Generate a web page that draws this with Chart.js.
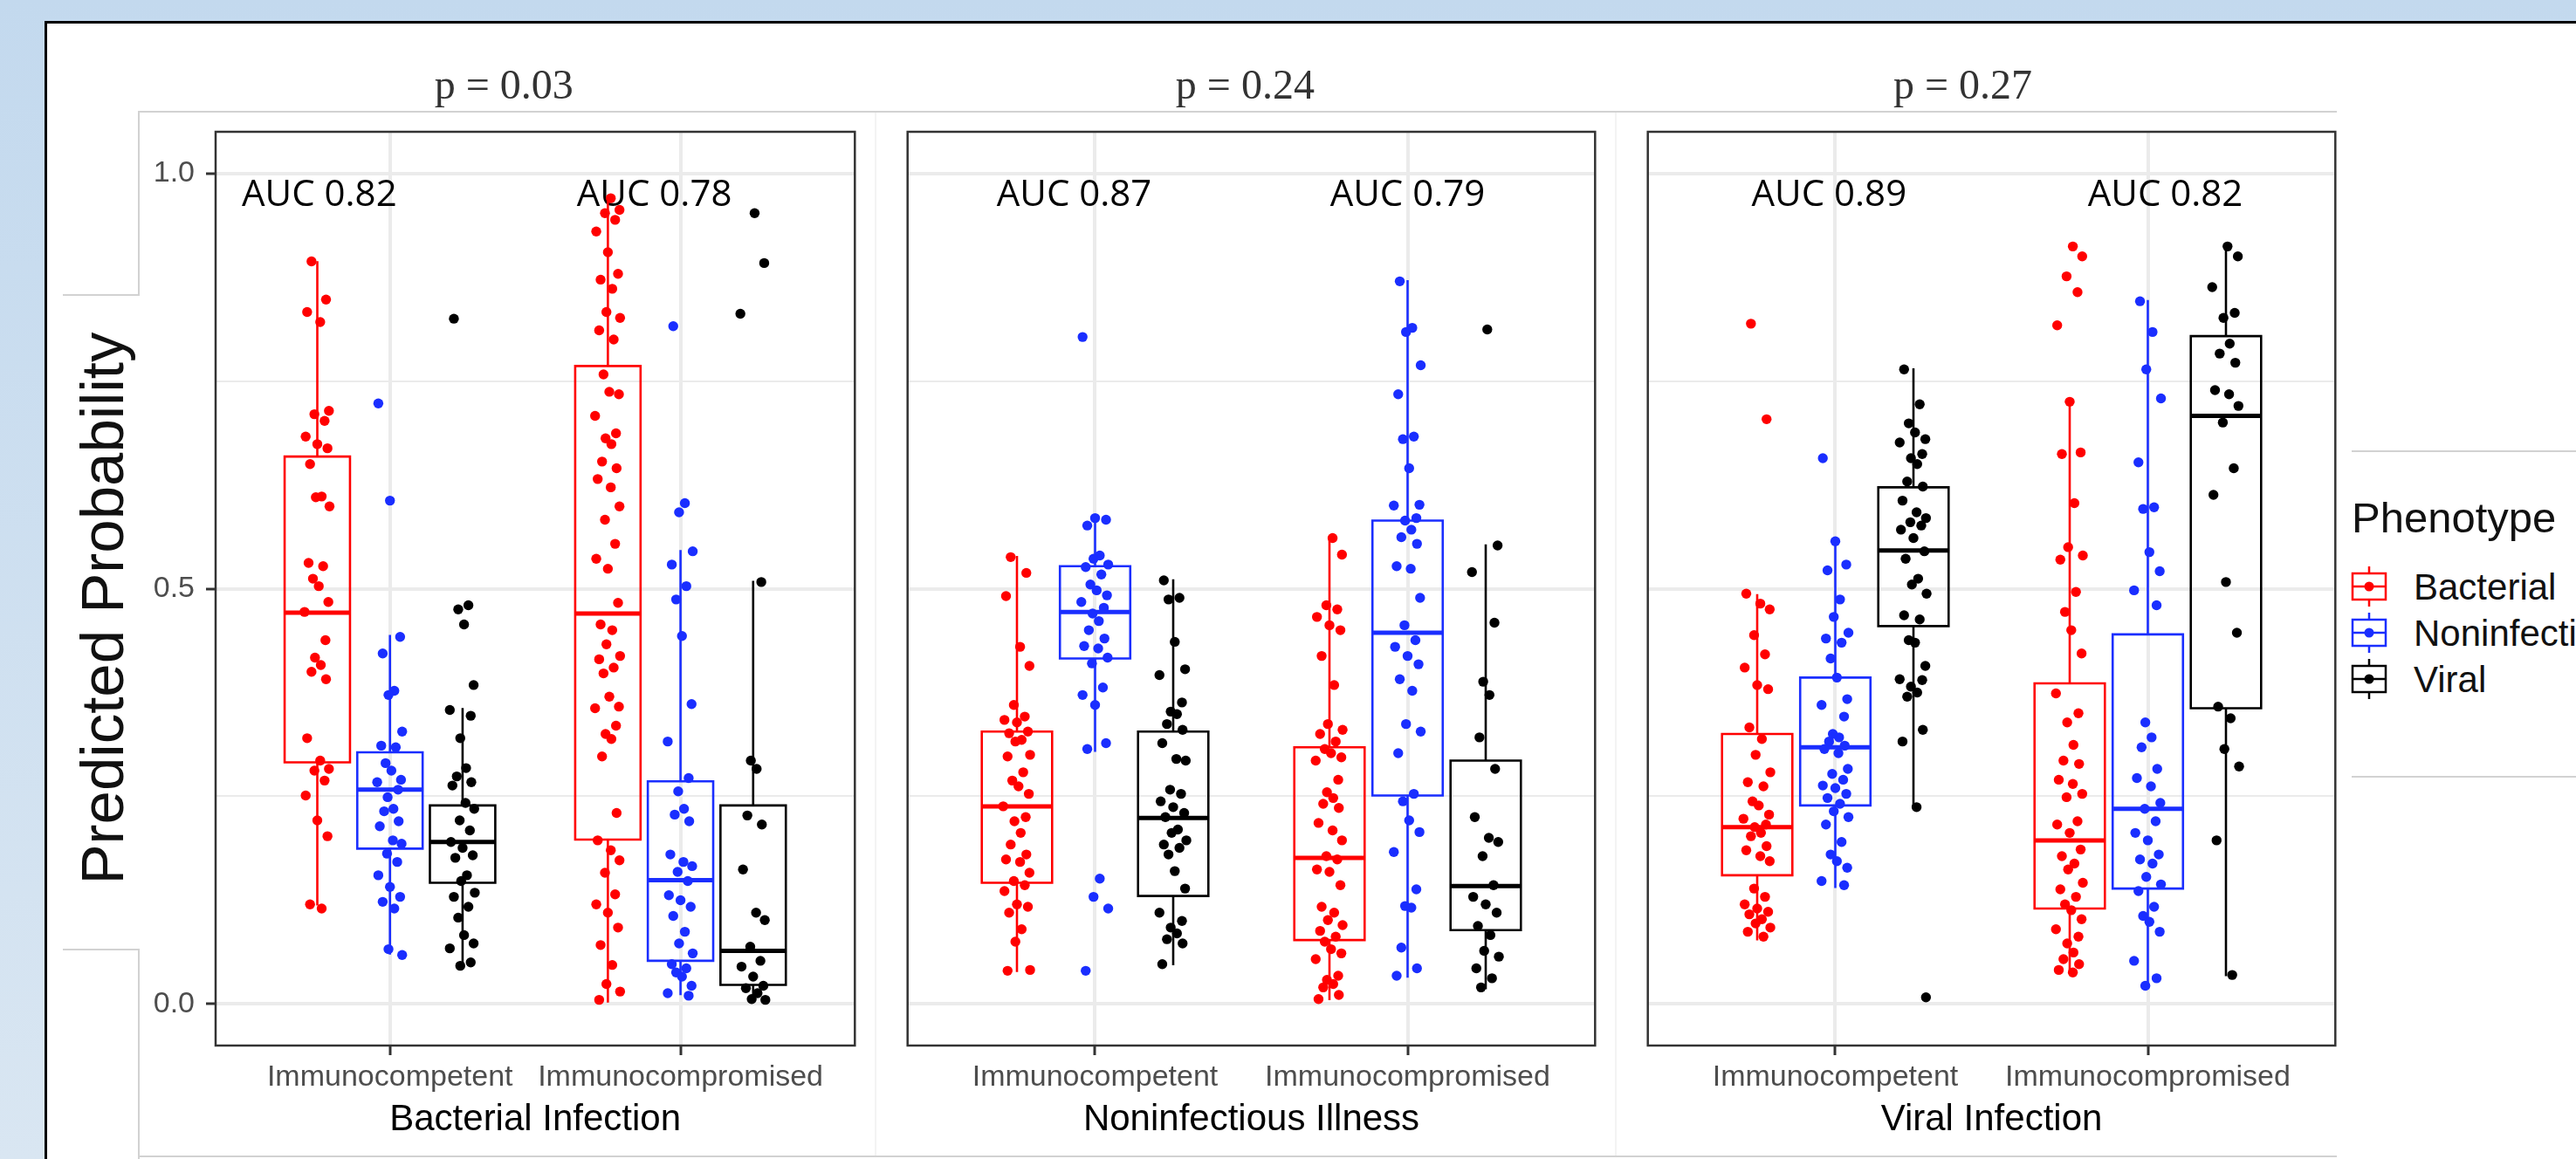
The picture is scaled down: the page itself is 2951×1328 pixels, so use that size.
<!DOCTYPE html>
<html>
<head>
<meta charset="utf-8">
<script src="https://cdn.jsdelivr.net/npm/chart.js@4.4.1/dist/chart.umd.min.js"></script>
<style>
  html, body { margin: 0; padding: 0; }
  body {
    width: 2951px; height: 1328px; overflow: hidden; position: relative;
    background: linear-gradient(to bottom, #c3d9ee 0%, #d9e6f2 100%);
    font-family: "Liberation Sans", Arial, sans-serif;
  }
  #sheet {
    position: absolute; left: 51px; top: 24px; right: 0; bottom: 0;
    background: #fff; border-top: 3px solid #000; border-left: 3px solid #000;
  }
  .fl { position: absolute; background: #d2d2d2; }
  .faint { position: absolute; background: #f3f3f3; }
  .panel { position: absolute; top: 0; height: 1328px; }
  #ytitle {
    position: absolute; left: 117px; top: 697px;
    font-size: 69px; line-height: 69px; white-space: nowrap; color: #111;
    transform: translate(-50%, -50%) rotate(-90deg);
  }
  .lg { position: absolute; white-space: nowrap; color: #111; }
  .lg-title { left: 2694px; top: 569px; font-size: 49px; line-height: 49px; }
  .lg-item { left: 2765px; font-size: 42px; line-height: 42px; }
  .lg-key { position: absolute; left: 2693px; }
</style>
</head>
<body>
<div id="sheet"></div>

<!-- light frame lines of the pasted figure -->
<div class="fl" style="left:159px;top:127px;width:2518px;height:2px"></div>
<div class="fl" style="left:158px;top:127px;width:2px;height:212px"></div>
<div class="fl" style="left:72px;top:337px;width:88px;height:2px"></div>
<div class="fl" style="left:72px;top:1087px;width:88px;height:2px"></div>
<div class="fl" style="left:158px;top:1087px;width:2px;height:241px"></div>
<div class="fl" style="left:159px;top:1324px;width:2518px;height:2px"></div>
<div class="fl" style="left:2694px;top:516px;width:257px;height:2px"></div>
<div class="fl" style="left:2694px;top:889px;width:257px;height:2px"></div>
<div class="faint" style="left:1002px;top:129px;width:2px;height:1195px"></div>
<div class="faint" style="left:1850px;top:129px;width:2px;height:1195px"></div>

<div id="ytitle">Predicted Probability</div>

<div class="panel" style="left:150px;width:835px"><canvas id="c1"></canvas></div>
<div class="panel" style="left:1034px;width:799px"><canvas id="c2"></canvas></div>
<div class="panel" style="left:1882px;width:799px"><canvas id="c3"></canvas></div>

<div id="legend"></div>

<script>
// ---- data ----
const categories = ['Immunocompetent', 'Immunocompromised'];
const phenotypes = ['Bacterial', 'Noninfectious', 'Viral'];
const facetTitles = ['Bacterial Infection', 'Noninfectious Illness', 'Viral Infection'];
const pValues = ['p = 0.03', 'p = 0.24', 'p = 0.27'];
const aucLabels = [['AUC 0.82', 'AUC 0.78'], ['AUC 0.87', 'AUC 0.79'], ['AUC 0.89', 'AUC 0.82']];
const yTicks = [0, 0.25, 0.5, 0.75, 1];

// box stats per category, per phenotype: [lower whisker, Q1, median, Q3, upper whisker]
const bacterialBox = [
    [[0.120, 0.291, 0.471, 0.659, 0.893], [0.061, 0.187, 0.258, 0.303, 0.443], [0.046, 0.146, 0.195, 0.239, 0.355]],
    [[0.003, 0.198, 0.470, 0.768, 0.972], [0.012, 0.052, 0.149, 0.268, 0.545], [0.005, 0.023, 0.064, 0.239, 0.508]]
];
const noninfBox = [
    [[0.040, 0.146, 0.238, 0.328, 0.538], [0.305, 0.416, 0.472, 0.527, 0.583], [0.048, 0.130, 0.224, 0.328, 0.510]],
    [[0.006, 0.077, 0.176, 0.309, 0.560], [0.033, 0.251, 0.447, 0.582, 0.870], [0.019, 0.089, 0.142, 0.293, 0.552]]
];
const viralBox = [
    [[0.078, 0.155, 0.213, 0.325, 0.492], [0.141, 0.239, 0.309, 0.393, 0.557], [0.237, 0.455, 0.546, 0.622, 0.764]],
    [[0.040, 0.115, 0.197, 0.386, 0.725], [0.020, 0.139, 0.235, 0.445, 0.846], [0.035, 0.356, 0.708, 0.804, 0.912]]
];

// predicted probabilities per category, per phenotype
const bacterialPts = [
    [
        [0.894, 0.848, 0.833, 0.821, 0.714, 0.71, 0.702, 0.683, 0.674, 0.669, 0.65, 0.611, 0.61, 0.599, 0.531, 0.527, 0.512, 0.503, 0.484, 0.472, 0.438, 0.417, 0.408, 0.4, 0.391, 0.32, 0.293, 0.283, 0.281, 0.269, 0.251, 0.221, 0.202, 0.12, 0.115],
        [0.723, 0.606, 0.442, 0.422, 0.377, 0.372, 0.328, 0.311, 0.309, 0.29, 0.281, 0.27, 0.267, 0.258, 0.249, 0.235, 0.232, 0.22, 0.214, 0.197, 0.193, 0.181, 0.171, 0.155, 0.141, 0.129, 0.123, 0.115, 0.066, 0.059],
        [0.825, 0.48, 0.475, 0.457, 0.384, 0.354, 0.347, 0.32, 0.284, 0.274, 0.267, 0.263, 0.242, 0.235, 0.221, 0.209, 0.195, 0.188, 0.179, 0.176, 0.155, 0.148, 0.134, 0.129, 0.117, 0.104, 0.083, 0.073, 0.067, 0.05, 0.046]
    ],
    [
        [0.97, 0.956, 0.952, 0.944, 0.93, 0.905, 0.879, 0.872, 0.861, 0.833, 0.826, 0.811, 0.8, 0.758, 0.737, 0.734, 0.708, 0.687, 0.681, 0.674, 0.653, 0.645, 0.632, 0.622, 0.599, 0.583, 0.554, 0.536, 0.524, 0.483, 0.457, 0.45, 0.433, 0.419, 0.415, 0.405, 0.398, 0.37, 0.358, 0.356, 0.335, 0.325, 0.319, 0.298, 0.23, 0.197, 0.185, 0.173, 0.158, 0.132, 0.12, 0.11, 0.092, 0.071, 0.047, 0.024, 0.015, 0.005],
        [0.816, 0.603, 0.592, 0.545, 0.529, 0.503, 0.487, 0.443, 0.361, 0.316, 0.272, 0.256, 0.235, 0.228, 0.22, 0.18, 0.171, 0.166, 0.159, 0.148, 0.131, 0.125, 0.117, 0.106, 0.087, 0.073, 0.061, 0.048, 0.043, 0.038, 0.033, 0.022, 0.013, 0.01],
        [0.952, 0.892, 0.831, 0.508, 0.293, 0.283, 0.227, 0.216, 0.162, 0.11, 0.101, 0.069, 0.052, 0.045, 0.033, 0.022, 0.019, 0.013, 0.006, 0.005]
    ]
];
const noninfPts = [
    [
        [0.538, 0.519, 0.491, 0.43, 0.407, 0.36, 0.346, 0.342, 0.339, 0.328, 0.326, 0.318, 0.316, 0.3, 0.298, 0.279, 0.269, 0.262, 0.253, 0.238, 0.225, 0.22, 0.206, 0.192, 0.18, 0.174, 0.171, 0.158, 0.148, 0.143, 0.136, 0.12, 0.117, 0.11, 0.09, 0.075, 0.041, 0.04],
        [0.803, 0.585, 0.583, 0.576, 0.54, 0.536, 0.529, 0.526, 0.517, 0.505, 0.498, 0.492, 0.484, 0.477, 0.47, 0.461, 0.45, 0.44, 0.431, 0.428, 0.417, 0.41, 0.381, 0.372, 0.36, 0.314, 0.307, 0.151, 0.129, 0.115, 0.04],
        [0.51, 0.489, 0.487, 0.436, 0.403, 0.396, 0.363, 0.352, 0.349, 0.337, 0.33, 0.314, 0.295, 0.293, 0.258, 0.253, 0.244, 0.237, 0.23, 0.225, 0.21, 0.206, 0.197, 0.192, 0.188, 0.18, 0.16, 0.139, 0.11, 0.1, 0.092, 0.085, 0.078, 0.073, 0.048]
    ],
    [
        [0.561, 0.541, 0.48, 0.475, 0.466, 0.456, 0.45, 0.419, 0.384, 0.337, 0.33, 0.325, 0.316, 0.307, 0.302, 0.297, 0.293, 0.27, 0.255, 0.248, 0.241, 0.236, 0.218, 0.209, 0.197, 0.178, 0.174, 0.162, 0.159, 0.143, 0.117, 0.11, 0.101, 0.095, 0.088, 0.081, 0.075, 0.066, 0.061, 0.054, 0.034, 0.029, 0.024, 0.02, 0.011, 0.006],
        [0.87, 0.814, 0.809, 0.769, 0.734, 0.683, 0.68, 0.645, 0.601, 0.6, 0.585, 0.582, 0.571, 0.562, 0.554, 0.527, 0.524, 0.489, 0.456, 0.438, 0.43, 0.419, 0.409, 0.391, 0.377, 0.337, 0.328, 0.302, 0.253, 0.244, 0.221, 0.207, 0.183, 0.138, 0.118, 0.116, 0.068, 0.043, 0.034],
        [0.812, 0.552, 0.52, 0.459, 0.388, 0.372, 0.321, 0.283, 0.225, 0.2, 0.195, 0.178, 0.143, 0.129, 0.12, 0.11, 0.094, 0.083, 0.064, 0.057, 0.043, 0.031, 0.02]
    ]
];
const viralPts = [
    [
        [0.819, 0.704, 0.494, 0.482, 0.475, 0.444, 0.421, 0.405, 0.384, 0.379, 0.333, 0.319, 0.3, 0.279, 0.267, 0.262, 0.244, 0.239, 0.228, 0.223, 0.216, 0.213, 0.206, 0.202, 0.19, 0.185, 0.178, 0.172, 0.139, 0.129, 0.12, 0.115, 0.111, 0.108, 0.102, 0.097, 0.092, 0.087, 0.081],
        [0.657, 0.557, 0.529, 0.522, 0.487, 0.466, 0.447, 0.44, 0.435, 0.416, 0.393, 0.367, 0.36, 0.346, 0.325, 0.321, 0.316, 0.311, 0.307, 0.302, 0.283, 0.277, 0.27, 0.263, 0.26, 0.253, 0.248, 0.241, 0.232, 0.225, 0.216, 0.195, 0.18, 0.172, 0.164, 0.148, 0.143],
        [0.764, 0.722, 0.699, 0.688, 0.68, 0.676, 0.662, 0.657, 0.65, 0.629, 0.623, 0.606, 0.592, 0.585, 0.58, 0.576, 0.571, 0.561, 0.545, 0.536, 0.512, 0.505, 0.494, 0.468, 0.463, 0.438, 0.435, 0.407, 0.391, 0.39, 0.382, 0.375, 0.37, 0.33, 0.316, 0.237, 0.008]
    ],
    [
        [0.912, 0.9, 0.876, 0.857, 0.817, 0.725, 0.664, 0.662, 0.603, 0.55, 0.54, 0.535, 0.496, 0.472, 0.45, 0.422, 0.374, 0.35, 0.339, 0.312, 0.293, 0.289, 0.27, 0.265, 0.253, 0.249, 0.22, 0.216, 0.206, 0.186, 0.178, 0.169, 0.162, 0.146, 0.138, 0.129, 0.12, 0.113, 0.102, 0.09, 0.081, 0.073, 0.062, 0.054, 0.048, 0.041, 0.038],
        [0.846, 0.809, 0.764, 0.729, 0.652, 0.598, 0.596, 0.544, 0.521, 0.498, 0.48, 0.339, 0.321, 0.309, 0.283, 0.272, 0.262, 0.242, 0.235, 0.22, 0.206, 0.197, 0.18, 0.174, 0.169, 0.153, 0.144, 0.136, 0.117, 0.106, 0.099, 0.087, 0.052, 0.031, 0.022],
        [0.912, 0.9, 0.863, 0.832, 0.826, 0.795, 0.783, 0.772, 0.739, 0.734, 0.72, 0.7, 0.645, 0.613, 0.508, 0.447, 0.358, 0.344, 0.307, 0.286, 0.197, 0.035]
    ]
];

// ---- styling / layout ----
const colors = ['#ff0000', '#1a2eff', '#000000'];
const DODGE = [-0.25, 0, 0.25];     // dodge offsets in category units
const HALF_BOX = 0.1125;            // half box width in category units
const JITTER = [-0.02, 0.03, -0.035, 0.01, 0.04, -0.01, 0.025, -0.04, 0.0, 0.035, -0.025, 0.015,
                -0.005, 0.042, -0.03, 0.02, -0.015, 0.005, 0.038, -0.044, 0.028, -0.008, 0.012];

const panels = [
    { id: 'c1', box: bacterialBox, pts: bacterialPts, yAxisWidth: 97, pX: 1.392, aucX: [0.757, 1.91] },
    { id: 'c2', box: noninfBox, pts: noninfPts, yAxisWidth: 4, pX: 1.48, aucX: [0.933, 2.0] },
    { id: 'c3', box: viralBox, pts: viralPts, yAxisWidth: 4, pX: 1.408, aucX: [0.98, 2.056] }
];

const isMajor = v => Math.abs(v * 2 - Math.round(v * 2)) < 1e-6;

// texts (p value strip, AUC labels) and the panel border
const panelDecor = {
    id: 'panelDecor',
    beforeDatasetsDraw(chart, args, opts) {
        const { ctx, scales: { x, y } } = chart;
        ctx.save();
        ctx.textAlign = 'center';
        ctx.textBaseline = 'alphabetic';
        ctx.fillStyle = '#000';
        ctx.font = '42px "Open Sans"';
        opts.auc.forEach((t, i) => ctx.fillText(t, x.getPixelForValue(opts.aucX[i]), y.getPixelForValue(0.961)));
        ctx.fillStyle = '#333';
        ctx.font = '48px "Liberation Serif"';
        ctx.fillText(opts.p, x.getPixelForValue(opts.pX), 113);
        ctx.restore();
    },
    afterDraw(chart) {
        const { ctx, chartArea: a } = chart;
        ctx.save();
        ctx.strokeStyle = '#333';
        ctx.lineWidth = 2.5;
        ctx.strokeRect(a.left, a.top, a.right - a.left, a.bottom - a.top);
        ctx.restore();
    }
};

function buildDatasets(box, pts) {
    const sets = [];
    phenotypes.forEach((name, p) => {
        const scatter = [], outline = [], median = [];
        categories.forEach((cat, c) => {
            const cx = c + 1 + DODGE[p];
            const [lo, q1, med, q3, hi] = box[c][p];
            outline.push(
                { x: cx - HALF_BOX, y: q1 }, { x: cx + HALF_BOX, y: q1 }, { x: cx + HALF_BOX, y: q3 },
                { x: cx - HALF_BOX, y: q3 }, { x: cx - HALF_BOX, y: q1 }, { x: cx, y: null },
                { x: cx, y: q3 }, { x: cx, y: hi }, { x: cx, y: null },
                { x: cx, y: q1 }, { x: cx, y: lo }, { x: cx, y: null }
            );
            median.push({ x: cx - HALF_BOX, y: med }, { x: cx + HALF_BOX, y: med }, { x: cx, y: null });
            pts[c][p].forEach((v, i) => {
                scatter.push({ x: cx + JITTER[(i + p * 7 + c * 3) % JITTER.length], y: v });
            });
        });
        sets.push({ label: name, data: scatter, backgroundColor: colors[p], borderWidth: 0,
                    pointBorderWidth: 0, pointRadius: 5.7, order: 0 });
        sets.push({ label: name + ' box', data: outline, showLine: true, borderColor: colors[p],
                    borderWidth: 2.6, pointRadius: 0, spanGaps: false, borderCapStyle: 'square', order: 1 });
        sets.push({ label: name + ' median', data: median, showLine: true, borderColor: colors[p],
                    borderWidth: 5, pointRadius: 0, spanGaps: false, order: 1 });
    });
    return sets;
}

panels.forEach((P, i) => {
    const first = i === 0;
    new Chart(document.getElementById(P.id), {
        type: 'scatter',
        data: { datasets: buildDatasets(P.box, P.pts) },
        options: {
            responsive: true,
            maintainAspectRatio: false,
            animation: false,
            events: [],
            layout: { padding: { top: 151, left: 0, right: 4, bottom: 0 } },
            plugins: {
                legend: { display: false },
                tooltip: { enabled: false },
                panelDecor: { p: pValues[i], auc: aucLabels[i], pX: P.pX, aucX: P.aucX }
            },
            scales: {
                x: {
                    type: 'linear', min: 0.4, max: 2.6,
                    afterBuildTicks: s => { s.ticks = categories.map((c, k) => ({ value: k + 1 })); },
                    afterFit: s => { s.height = 130; },
                    ticks: {
                        autoSkip: false, maxRotation: 0, padding: 5, color: '#4d4d4d',
                        font: { family: 'Liberation Sans', size: 34 },
                        callback: v => categories[Math.round(v) - 1]
                    },
                    grid: { color: '#ebebeb', lineWidth: 4, tickColor: '#333', tickWidth: 3, tickLength: 11 },
                    border: { display: false },
                    title: {
                        display: true, text: facetTitles[i], color: '#000',
                        font: { family: 'Liberation Sans', size: 42 },
                        padding: { top: 0, bottom: 19 }
                    }
                },
                y: {
                    type: 'linear', min: -0.05, max: 1.05,
                    afterBuildTicks: s => { s.ticks = yTicks.map(v => ({ value: v })); },
                    afterFit: s => { s.width = P.yAxisWidth; },
                    ticks: {
                        display: first, padding: 13, color: '#4d4d4d',
                        font: { family: 'Liberation Sans', size: 34 },
                        callback: v => isMajor(v) ? v.toFixed(1) : ''
                    },
                    grid: {
                        color: '#ebebeb',
                        lineWidth: c => (c.tick && !isMajor(c.tick.value)) ? 2 : 4,
                        drawTicks: first, tickLength: 11, tickWidth: 3,
                        tickColor: c => (c.tick && !isMajor(c.tick.value)) ? 'rgba(0,0,0,0)' : '#333'
                    },
                    border: { display: false }
                }
            }
        },
        plugins: [panelDecor]
    });
});

// legend: boxplot glyph + label for each phenotype
const legend = document.getElementById('legend');
const title = document.createElement('div');
title.className = 'lg lg-title';
title.textContent = 'Phenotype';
legend.appendChild(title);
const keyCentres = [672, 725, 778];
phenotypes.forEach((name, p) => {
    const cy = keyCentres[p];
    const key = document.createElement('div');
    key.className = 'lg-key';
    key.style.top = (cy - 23) + 'px';
    key.innerHTML = `<svg width="42" height="46" viewBox="0 0 42 46">
        <line x1="21" y1="0" x2="21" y2="46" stroke="${colors[p]}" stroke-width="2.5"/>
        <rect x="2" y="8" width="38" height="30" fill="#fff" stroke="${colors[p]}" stroke-width="2.5"/>
        <line x1="2" y1="23" x2="40" y2="23" stroke="${colors[p]}" stroke-width="2.5"/>
        <circle cx="21" cy="23" r="5.5" fill="${colors[p]}"/></svg>`;
    legend.appendChild(key);
    const lab = document.createElement('div');
    lab.className = 'lg lg-item';
    lab.style.top = (cy - 20) + 'px';
    lab.textContent = name;
    legend.appendChild(lab);
});
</script>
</body>
</html>
